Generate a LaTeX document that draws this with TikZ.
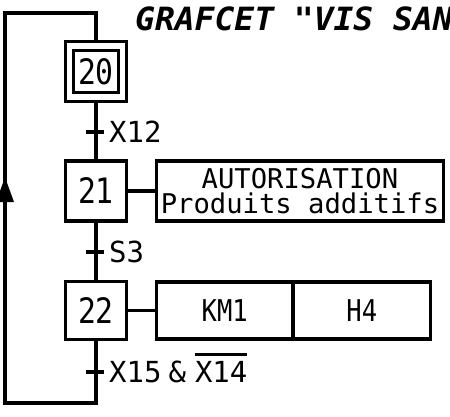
\documentclass[tikz,border=0pt]{standalone}
\usepackage{fontspec}
\setmainfont{DejaVu Sans Mono}
\newfontfamily\monofont{DejaVu Sans Mono}
\newfontfamily\narrowfont{DejaVu Sans Mono}[FakeStretch=0.85]
\newfontfamily\titlefont{DejaVu Sans Mono Bold Oblique}[FakeStretch=1.03]
\usetikzlibrary{arrows.meta}
\newcommand\ovl[1]{\leavevmode\vbox{\hrule height 3pt\kern 5pt\hbox{#1}}}
\begin{document}
\begin{tikzpicture}[x=1pt,y=-1pt,
  ln/.style={line width=3.4pt},
  stepbox/.style={draw, line width=3.2pt, minimum width=61pt, minimum height=60pt, inner sep=0pt,
    font=\narrowfont\fontsize{35}{35}\selectfont},
  actbox/.style={draw, line width=3.2pt, minimum height=57pt, inner sep=0pt},
  tickmark/.style={fill=black, minimum width=18pt, minimum height=4pt, inner sep=0pt},
  trlabel/.style={anchor=base west, inner sep=0pt, font=\monofont\fontsize{29}{29}\selectfont}]
\path[use as bounding box, clip] (0,0) rectangle (450,416);
\fill[white] (0,0) rectangle (450,416);

% title
\node[anchor=base west, inner sep=0pt,
  font=\titlefont\fontsize{32}{32}\selectfont] (title) at (135,30) {GRAFCET "VIS SAN};

% steps
\node[draw, line width=3.2pt, minimum width=61.5pt, minimum height=59.5pt, inner sep=0pt] (s20) at (96,71.5) {};
\node[stepbox, minimum width=45pt, minimum height=42pt] (s20i) at (s20.center) {20};
\node[stepbox] (s21) at (96,191) {21};
\node[stepbox, minimum height=57.5pt] (s22) at (96,310.5) {22};

% actions
\node[actbox, minimum width=287pt, minimum height=60pt, align=center,
  font=\monofont\fontsize{27.2}{25}\selectfont] (a21) at (300,191) {AUTORISATION\\Produits additifs};
\node[actbox, minimum width=136.5pt, font=\narrowfont\fontsize{30}{30}\selectfont] (km1) at (224.75,310.5) {KM1};
\node[actbox, minimum width=137.5pt, font=\narrowfont\fontsize{30}{30}\selectfont] (h4) at (361.75,310.5) {H4};

% links
\draw[ln] (s20.south) -- (s21.north);
\draw[ln] (s21.south) -- (s22.north);
\draw[ln] (s21.east) -- (a21.west);
\draw[ln] (s22.east) -- (km1.west);

% transitions
\node[tickmark] (t1) at (95,132) {};
\node[trlabel] (l1) at (109,142) {X12};
\node[tickmark] (t2) at (95,252) {};
\node[trlabel] (l2) at (109,262) {S3};
\node[tickmark] (t3) at (95,372) {};
\node[trlabel] (l3) at (109,382) {X15\hspace{7pt}\&\hspace{9pt}\ovl{X14}};

% return loop
\coordinate (b1) at (96,403);
\coordinate (b2) at (5,403);
\coordinate (a1) at (5,177);
\coordinate (c1) at (5,13);
\coordinate (c2) at (96,13);
\draw[ln] (s22.south) -- (b1) -- (b2) -- (5,300);
\draw[ln, -{Triangle[length=25pt, width=17pt]}] (5,300) -- (a1);
\draw[ln] (5,185) -- (c1) -- (c2) -- (s20.north);
\end{tikzpicture}
\end{document}
